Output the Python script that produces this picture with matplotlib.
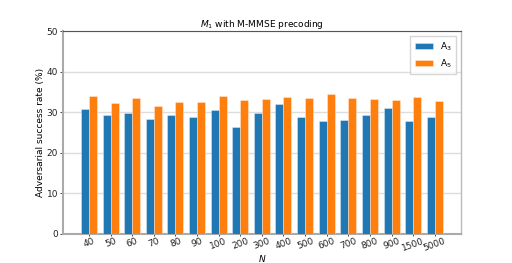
import matplotlib
matplotlib.use("Agg")
import matplotlib.pyplot as plt
import numpy as np

categories = ["40", "50", "60", "70", "80", "90", "100", "200", "300", "400",
              "500", "600", "700", "800", "900", "1500", "5000"]
a3 = [30.7, 29.4, 29.7, 28.4, 29.3, 28.7, 30.6, 26.3, 29.7, 31.9,
      28.9, 27.7, 28.0, 29.3, 30.9, 27.9, 28.9]
a5 = [34.0, 32.2, 33.4, 31.5, 32.4, 32.4, 33.9, 32.9, 33.2, 33.75,
      33.5, 34.5, 33.6, 33.2, 32.9, 33.8, 32.7]

fig = plt.figure(figsize=(5.12, 2.63), dpi=100)
ax = fig.add_axes([0.123, 0.111, 0.777, 0.771])

x = np.arange(len(categories))
w = 0.37
ax.bar(x - w / 2, a3, w, color="#1f77b4", label="A$_3$", zorder=3,
       edgecolor=(1, 1, 1, 0.4), linewidth=0.6)
ax.bar(x + w / 2, a5, w, color="#ff7f0e", label="A$_5$", zorder=3,
       edgecolor=(1, 1, 1, 0.4), linewidth=0.6)

ax.set_ylim(0, 50)
ax.set_yticks([0, 10, 20, 30, 40, 50])
ax.set_xticks(x)
ax.set_xticklabels(categories, rotation=20, ha="center")
ax.tick_params(axis="both", labelsize=6.5, length=2, width=0.6, pad=1.5,
               colors="#222222")
ax.tick_params(axis="x", pad=0.3, length=1.5)
ax.yaxis.grid(True, color="#dddddd", linewidth=1.0, zorder=0)
ax.set_axisbelow(True)

ax.spines["top"].set_color("#555555")
ax.spines["top"].set_linewidth(0.8)
ax.spines["right"].set_color("#bbbbbb")
ax.spines["right"].set_linewidth(1.0)
ax.spines["left"].set_color("#aaaaaa")
ax.spines["left"].set_linewidth(1.5)
ax.spines["bottom"].set_color("#aaaaaa")
ax.spines["bottom"].set_linewidth(1.5)

ax.set_ylabel("Adversarial success rate (%)", fontsize=6.5, labelpad=1.5)
ax.set_xlabel("$N$", fontsize=6.5, labelpad=0)
ax.set_title("$M_1$ with M-MMSE precoding", fontsize=6.5, pad=2.5)
ax.legend(loc="upper right", fontsize=6.5, frameon=True, fancybox=False,
          edgecolor="#cccccc", handlelength=2.0, borderpad=0.5)

fig.savefig("out.png", dpi=100)
